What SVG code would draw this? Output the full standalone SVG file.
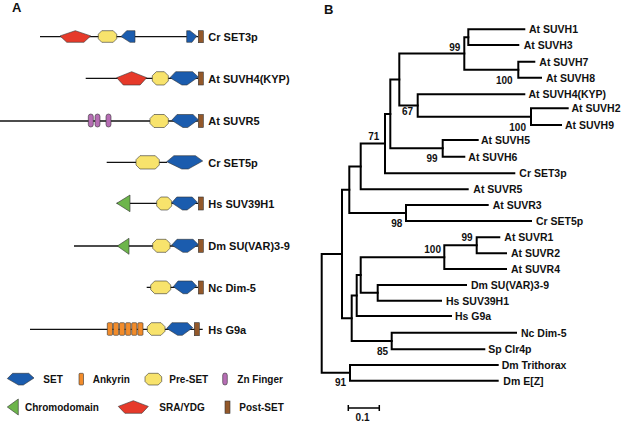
<svg xmlns="http://www.w3.org/2000/svg" width="622" height="422" viewBox="0 0 622 422">
<style>
text{font-family:"Liberation Sans",Arial,sans-serif;font-weight:bold;fill:#111}
.lab{font-size:11px}
.tx{font-size:10.5px}
.leg{font-size:10px}
.bs{font-size:10px;text-anchor:end}
.pan{font-size:13px}
.bb{stroke:#111;stroke-width:1.3;fill:none}
.set{fill:#1b5cae;stroke:#333;stroke-width:0.6}
.pre{fill:#f8e36c;stroke:#333;stroke-width:0.6}
.sra{fill:#e63a2a;stroke:#333;stroke-width:0.6}
.chr{fill:#6db54b;stroke:#333;stroke-width:0.6}
.ank{fill:#f28c2b;stroke:#333;stroke-width:0.6}
.zn{fill:#b66db4;stroke:#333;stroke-width:0.6}
.post{fill:#93582a;stroke:#333;stroke-width:0.6}
.tr{fill:none;stroke:#000;stroke-width:2;stroke-linecap:square;stroke-linejoin:miter}
</style>
<rect width="622" height="422" fill="#fff"/>
<text class="pan" x="12" y="11.5">A</text>
<text class="pan" x="324" y="14">B</text>

<g id="row-CrSET3p">
<line class="bb" x1="40" y1="36.7" x2="198" y2="36.7"/>
<polygon class="sra" points="75.3,30.7 90.7,35.9 83.9,42.3 66.8,42.3 60,35.9"/>
<polygon class="pre" points="101.8,30.7 113.2,30.7 116.7,34.2 116.7,38.8 113.2,42.3 101.8,42.3 98.3,38.8 98.3,34.2"/>
<polygon class="set" points="121,36.5 126.7,30.7 135,30.7 135,42.3 130,42.3"/>
<polygon class="set" points="186.7,30.7 190,30.7 196.7,36 192,42.3 186.7,42.3"/>
<rect class="post" x="198.3" y="30.7" width="5" height="12"/>
<text class="lab" x="208.3" y="40.8">Cr SET3p</text>
</g>

<g id="row-AtSUVH4">
<line class="bb" x1="85.7" y1="78.3" x2="198" y2="78.3"/>
<polygon class="sra" points="131.7,71.7 146.7,77.7 140.1,85 123.3,85 116.7,77.7"/>
<polygon class="pre" points="156.3,71.7 164.3,71.7 168.3,75.7 168.3,81 164.3,85 156.3,85 152.3,81 152.3,75.7"/>
<polygon class="set" points="170,77.7 175.7,71.7 192.6,71.7 198.3,77 187,85 181.9,85"/>
<rect class="post" x="198.3" y="72" width="5" height="13"/>
<text class="lab" x="208.3" y="82.5">At SUVH4(KYP)</text>
</g>

<g id="row-AtSUVR5">
<line class="bb" x1="0" y1="121" x2="198" y2="121"/>
<rect class="zn" x="88.3" y="114" width="5" height="13" rx="2.5"/>
<rect class="zn" x="95" y="114" width="5" height="13" rx="2.5"/>
<rect class="zn" x="106" y="114" width="5" height="13" rx="2.5"/>
<polygon class="pre" points="154,114.5 164.3,114.5 168.3,118.5 168.3,123.5 164.3,127.5 154,127.5 150,123.5 150,118.5"/>
<polygon class="set" points="171.7,120.3 177,114.5 193,114.5 198.3,119.7 187.7,127.5 182.9,127.5"/>
<rect class="post" x="198.3" y="114.5" width="5" height="13"/>
<text class="lab" x="208.3" y="125">At SUVR5</text>
</g>

<g id="row-CrSET5p">
<line class="bb" x1="106.7" y1="162.3" x2="167" y2="162.3"/>
<polygon class="pre" points="140,155.7 155.3,155.7 159.3,159.7 159.3,165 155.3,169 140,169 136,165 136,159.7"/>
<polygon class="set" points="166.7,161.7 173.9,155.7 195.5,155.7 202.7,161 188.3,169 181.8,169"/>
<text class="lab" x="208.3" y="166.5">Cr SET5p</text>
</g>

<g id="row-HsSUV39H1">
<line class="bb" x1="116.7" y1="203.3" x2="198" y2="203.3"/>
<polygon class="chr" points="116.7,203.3 130,195 130,211.7"/>
<polygon class="pre" points="160.7,197 167.7,197 171.7,201 171.7,206 167.7,210 160.7,210 156.7,206 156.7,201"/>
<polygon class="set" points="171.7,202.8 176.8,197 192.2,197 197.3,202.2 187.1,210 182.5,210"/>
<rect class="post" x="198.3" y="197" width="5" height="13"/>
<text class="lab" x="208.3" y="207.5">Hs SUV39H1</text>
</g>

<g id="row-DmSUVAR39">
<line class="bb" x1="74" y1="246" x2="198" y2="246"/>
<polygon class="chr" points="117.3,246 129,238.3 129,254.3"/>
<polygon class="pre" points="156.7,239.3 166,239.3 170,243.3 170,248.3 166,252.3 156.7,252.3 152.7,248.3 152.7,243.3"/>
<polygon class="set" points="171.7,245.1 177,239.3 193,239.3 198.3,244.5 187.7,252.3 182.9,252.3"/>
<rect class="post" x="198.3" y="239.3" width="5" height="13"/>
<text class="lab" x="208.3" y="250">Dm SU(VAR)3-9</text>
</g>

<g id="row-NcDim5">
<line class="bb" x1="146.7" y1="287.3" x2="198" y2="287.3"/>
<polygon class="pre" points="154.7,281 166.7,281 170.7,285 170.7,289.7 166.7,293.7 154.7,293.7 150.7,289.7 150.7,285"/>
<polygon class="set" points="173.3,286.7 178,281 192,281 196.7,286.1 187.3,293.7 183.1,293.7"/>
<rect class="post" x="198.3" y="281" width="5" height="13"/>
<text class="lab" x="208.3" y="291.5">Nc Dim-5</text>
</g>

<g id="row-HsG9a">
<line class="bb" x1="30" y1="329.3" x2="202.7" y2="329.3"/>
<rect class="ank" x="107.3" y="322.7" width="5.2" height="12.6" rx="1"/>
<rect class="ank" x="113.4" y="322.7" width="5.2" height="12.6" rx="1"/>
<rect class="ank" x="119.5" y="322.7" width="5.2" height="12.6" rx="1"/>
<rect class="ank" x="125.6" y="322.7" width="5.2" height="12.6" rx="1"/>
<rect class="ank" x="131.7" y="322.7" width="5.2" height="12.6" rx="1"/>
<rect class="ank" x="137.8" y="322.7" width="5.2" height="12.6" rx="1"/>
<polygon class="pre" points="151.3,322.7 161,322.7 165,326.7 165,331.3 161,335.3 151.3,335.3 147.3,331.3 147.3,326.7"/>
<polygon class="set" points="166.7,328.4 171.9,322.7 187.5,322.7 192.7,327.7 182.3,335.3 177.6,335.3"/>
<rect class="post" x="194.3" y="322.7" width="5" height="13"/>
<text class="lab" x="208.3" y="333.5">Hs G9a</text>
</g>

<g id="legend">
<polygon class="set" points="7.3,378.6 12.6,373.3 28.7,373.3 34,378 23.3,385 18.5,385"/>
<text class="leg" x="43.3" y="383">SET</text>
<rect class="ank" x="79" y="373.3" width="4.5" height="11.7" rx="1"/>
<text class="leg" x="92.7" y="383">Ankyrin</text>
<polygon class="pre" points="148.5,373.3 158.2,373.3 161.7,376.8 161.7,381.5 158.2,385 148.5,385 145,381.5 145,376.8"/>
<text class="leg" x="169.3" y="383">Pre-SET</text>
<rect class="zn" x="222.7" y="373" width="4.6" height="12" rx="2.3"/>
<text class="leg" x="237.3" y="383">Zn Finger</text>
<polygon class="chr" points="7.3,407 18.3,399 18.3,415"/>
<text class="leg" x="25" y="410.5">Chromodomain</text>
<polygon class="sra" points="133.3,400.7 148.3,406.4 141.9,413.3 124.9,413.3 118.3,406.4"/>
<text class="leg" x="159.3" y="410.5">SRA/YDG</text>
<rect class="post" x="225" y="401" width="5" height="12.3"/>
<text class="leg" x="239.3" y="410.5">Post-SET</text>
</g>

<g id="connectors">
<path class="tr" d="M524.3,29.3 H468.3 V45 H518.3"/>
<path class="tr" d="M534.3,61.7 H518.3 V77.7 H541"/>
<path class="tr" d="M468.3,37.2 H464.3 V69.7 H518.3"/>
<path class="tr" d="M567.7,108.3 H531 V125 H561"/>
<path class="tr" d="M524.3,94.3 H417.7 V116.7 H531"/>
<path class="tr" d="M464.3,53.4 H399.3 V105.5 H417.7"/>
<path class="tr" d="M477.7,140 H442.7 V156.7 H464.3"/>
<path class="tr" d="M399.3,79.5 H390.3 V148.3 H442.7"/>
<path class="tr" d="M390.3,113.9 H385 V173.3 H514.3"/>
<path class="tr" d="M385,143.6 H360.7 V189.3 H467.7"/>
<path class="tr" d="M487.7,205 H406 V221 H531"/>
<path class="tr" d="M360.7,166.5 H349.3 V213 H406"/>
<path class="tr" d="M499.3,237.3 H476.7 V253.3 H506"/>
<path class="tr" d="M476.7,245.3 H444.3 V269 H506"/>
<path class="tr" d="M466,285 H377.7 V300.7 H441"/>
<path class="tr" d="M444.3,257.2 H360.7 V292.8 H377.7"/>
<path class="tr" d="M360.7,275 H356.7 V316 H451"/>
<path class="tr" d="M516,332.7 H391.7 V349.3 H484.3"/>
<path class="tr" d="M356.7,295.5 H351.7 V341 H391.7"/>
<path class="tr" d="M349.3,189.7 H342 V318.3 H351.7"/>
<path class="tr" d="M497.7,365 H350 V380.7 H497.7"/>
<path class="tr" d="M342,254 H321.7 V372.8 H350"/>
<path d="M348.3,408 H379.3 M348.3,405 V411 M379.3,405 V411" fill="none" stroke="#000" stroke-width="1.5"/>
</g>

<g id="taxa">
<text class="tx" x="529" y="33.1">At SUVH1</text>
<text class="tx" x="523.7" y="48.8">At SUVH3</text>
<text class="tx" x="539.3" y="65.5">At SUVH7</text>
<text class="tx" x="546" y="81.5">At SUVH8</text>
<text class="tx" x="528.5" y="98.1">At SUVH4(KYP)</text>
<text class="tx" x="571.5" y="112.1">At SUVH2</text>
<text class="tx" x="565" y="128.8">At SUVH9</text>
<text class="tx" x="481" y="143.8">At SUVH5</text>
<text class="tx" x="468.3" y="160.5">At SUVH6</text>
<text class="tx" x="519.3" y="177.1">Cr SET3p</text>
<text class="tx" x="473.3" y="193.1">At SUVR5</text>
<text class="tx" x="492.7" y="208.8">At SUVR3</text>
<text class="tx" x="536" y="224.8">Cr SET5p</text>
<text class="tx" x="504.3" y="241.1">At SUVR1</text>
<text class="tx" x="511" y="257.1">At SUVR2</text>
<text class="tx" x="511" y="272.8">At SUVR4</text>
<text class="tx" x="471" y="288.8">Dm SU(VAR)3-9</text>
<text class="tx" x="446" y="304.5">Hs SUV39H1</text>
<text class="tx" x="455" y="319.8">Hs G9a</text>
<text class="tx" x="521" y="336.5">Nc Dim-5</text>
<text class="tx" x="488.3" y="353.1">Sp Clr4p</text>
<text class="tx" x="501.7" y="368.8">Dm Trithorax</text>
<text class="tx" x="503.3" y="384.5">Dm E[Z]</text>
</g>

<g id="bootstrap">
<text class="bs" x="460.3" y="50.5">99</text>
<text class="bs" x="512.7" y="84">100</text>
<text class="bs" x="413" y="115">67</text>
<text class="bs" x="526" y="131">100</text>
<text class="bs" x="379.3" y="139.5">71</text>
<text class="bs" x="437.7" y="162">99</text>
<text class="bs" x="402.3" y="227">98</text>
<text class="bs" x="472.7" y="241">99</text>
<text class="bs" x="441" y="253">100</text>
<text class="bs" x="388" y="355">85</text>
<text class="bs" x="346" y="386">91</text>
<text class="bs" x="369.5" y="420.5">0.1</text>
</g>
</svg>
